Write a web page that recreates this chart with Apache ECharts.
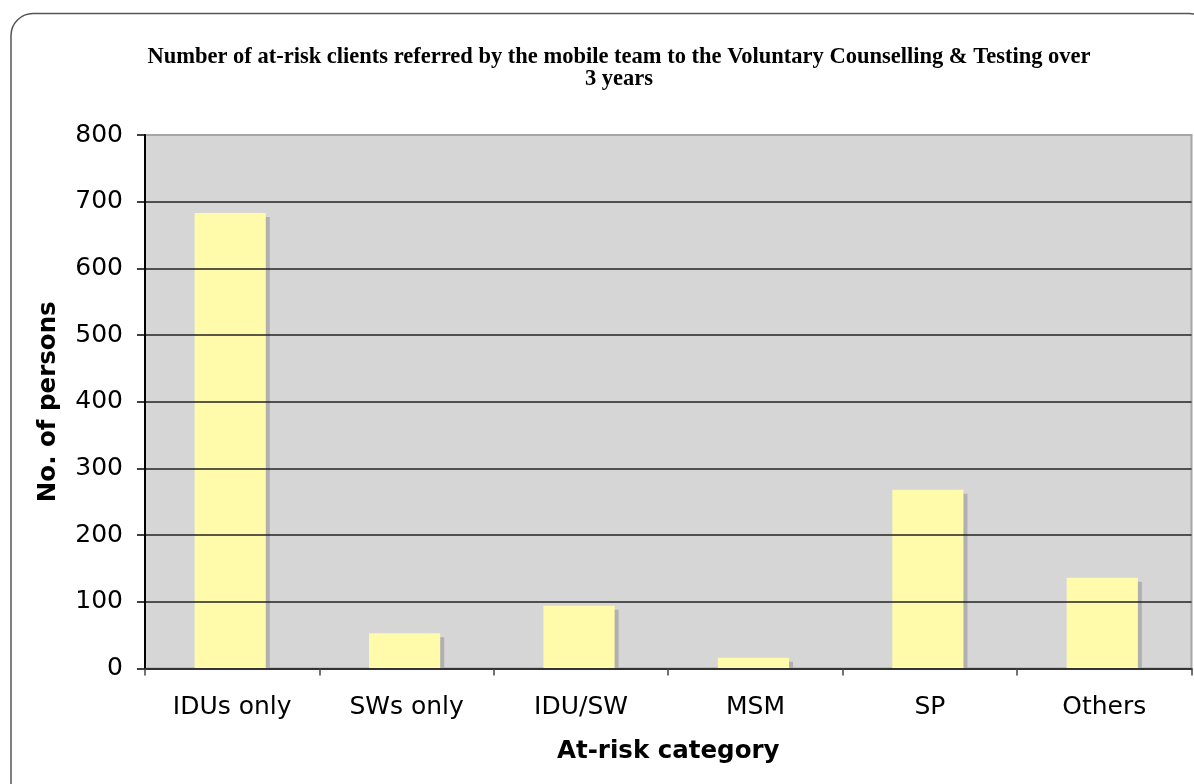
<!DOCTYPE html>
<html>
<head>
<meta charset="utf-8">
<script src="https://cdn.jsdelivr.net/npm/echarts@6/dist/echarts.min.js"></script>
<style>html,body{margin:0;padding:0;background:#fff;}#c{width:1194px;height:784px;}</style>
</head>
<body>
<div id="c"></div>
<script>
const categories = ['IDUs only', 'SWs only', 'IDU/SW', 'MSM', 'SP', 'Others'];
const persons = [683, 53, 94, 16, 268, 136];
const yTicks = [0, 100, 200, 300, 400, 500, 600, 700, 800];

const chart = echarts.init(document.getElementById('c'), null, {renderer: 'canvas'});
const option = {
  animation: false,
  backgroundColor: '#fff',
  title: {
    text: 'Number of at-risk clients referred by the mobile team to the Voluntary Counselling & Testing over\n3 years',
    left: 614, top: 41, textAlign: 'center',
    textStyle: {fontFamily: 'Liberation Serif', fontWeight: 'bold', fontSize: 22.5, lineHeight: 22, color: '#000'}
  },
  graphic: [{
    type: 'rect', z: -10, silent: true,
    shape: {x: 11, y: 13.5, width: 1200, height: 800, r: 22},
    style: {fill: 'none', stroke: '#555', lineWidth: 1.5}
  }],
  grid: {
    left: 145, top: 135, right: 2.5, bottom: 115.5,
    show: true, backgroundColor: '#d6d6d6', borderColor: '#a6a6a6', borderWidth: 2
  },
  xAxis: {
    type: 'category', data: categories,
    name: 'At-risk category', nameLocation: 'middle', nameGap: 71,
    nameTextStyle: {fontFamily: 'DejaVu Sans', fontWeight: 'bold', fontSize: 24.5, color: '#000'},
    axisLine: {show: true, lineStyle: {color: '#333', width: 2}},
    axisTick: {show: true, length: 7, lineStyle: {color: '#444', width: 1.5}},
    axisLabel: {margin: 26, fontFamily: 'DejaVu Sans', fontSize: 25, color: '#000'},
    splitLine: {show: false},
    z: 5
  },
  yAxis: {
    type: 'value', min: 0, max: 800, interval: 100,
    name: 'No. of persons', nameLocation: 'middle', nameGap: 84,
    nameTextStyle: {fontFamily: 'DejaVu Sans', fontWeight: 'bold', fontSize: 24.5, color: '#000'},
    axisLine: {show: true, lineStyle: {color: '#000', width: 2}},
    axisTick: {show: true, length: 8, lineStyle: {color: '#000', width: 1.5}},
    axisLabel: {margin: 22, fontFamily: 'DejaVu Sans', fontSize: 25, color: '#000',
      formatter: v => yTicks.includes(v) ? String(v) : ''},
    splitLine: {show: true, lineStyle: {
      color: ['#222', '#222', '#222', '#222', '#222', '#222', '#222', '#222', '#a6a6a6'], width: 1.5}},
    z: 5
  },
  series: [{
    type: 'custom',
    data: persons.map((v, i) => [i, v]),
    encode: {x: 0, y: 1},
    z: 2,
    renderItem: function (params, api) {
      const idx = api.value(0), val = api.value(1);
      const top = api.coord([idx, val]);
      const base = api.coord([idx, 0]);
      const band = api.size([1, 0])[0];
      const w = band * 0.408;
      const x0 = top[0] - w / 2 - 2;
      const h = base[1] - top[1];
      return {
        type: 'group',
        children: [
          {type: 'rect', shape: {x: x0 + 4, y: top[1] + 4, width: w, height: Math.max(h - 4, 0)},
           style: {fill: '#b0b0b0'}},
          {type: 'rect', shape: {x: x0, y: top[1], width: w, height: h},
           style: {fill: '#fffbaa'}}
        ]
      };
    }
  }]
};
chart.setOption(option);
</script>
</body>
</html>
